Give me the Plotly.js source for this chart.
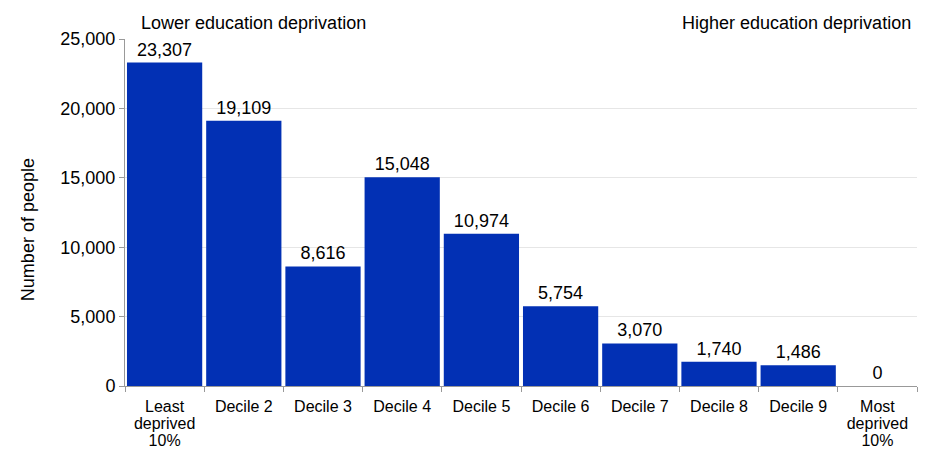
<!DOCTYPE html>
<html><head><meta charset="utf-8">
<script src="https://cdn.plot.ly/plotly-3.0.1.min.js"></script>
<style>body{margin:0;padding:0;background:#fff}#chart{width:928px;height:451px}</style>
</head><body><div id="chart"></div>
<script>
const categories = ["Least<br>deprived<br>10%", "Decile 2", "Decile 3", "Decile 4", "Decile 5", "Decile 6", "Decile 7", "Decile 8", "Decile 9", "Most<br>deprived<br>10%"];
const people = [23307, 19109, 8616, 15048, 10974, 5754, 3070, 1740, 1486, 0];
const yTicks = [0, 5000, 10000, 15000, 20000, 25000];

const trace = {
  type: "bar",
  x: categories,
  y: people,
  marker: {color: "#0230b4"},
  text: people.map(v => v.toLocaleString("en-GB")),
  textposition: "outside",
  cliponaxis: false,
  constraintext: "none",
  textfont: {family: "Liberation Sans, Arial, sans-serif", size: 18, color: "#000"},
  hoverinfo: "x+y"
};

const layout = {
  width: 928, height: 451,
  margin: {l: 125, r: 11, t: 39, b: 65},
  paper_bgcolor: "#fff", plot_bgcolor: "#fff",
  bargap: 0.05,
  showlegend: false,
  font: {family: "Liberation Sans, Arial, sans-serif", size: 18, color: "#000"},
  xaxis: {
    type: "category",
    tickson: "boundaries",
    ticks: "outside", ticklen: 5, tickcolor: "#999",
    showline: true, linecolor: "#999", linewidth: 1,
    tickfont: {size: 16},
    ticklabelstandoff: 6,
    automargin: false
  },
  yaxis: {
    range: [0, 25000],
    tickvals: yTicks,
    ticktext: yTicks.map(v => v.toLocaleString("en-GB")),
    ticks: "outside", ticklen: 5, tickcolor: "#999",
    showline: true, linecolor: "#999", linewidth: 1,
    showgrid: true, gridcolor: "#e6e6e6",
    zeroline: false,
    tickfont: {size: 18},
    automargin: false
  },
  annotations: [
    {text: "Number of people", xref: "paper", yref: "paper", x: -0.1225, y: 0.452, xanchor: "center", yanchor: "middle", textangle: -90, showarrow: false, font: {size: 18}},
    {text: "Lower education deprivation", xref: "paper", yref: "paper", x: 0.018, y: 1.0, xanchor: "left", yanchor: "bottom", yshift: 4, showarrow: false, font: {size: 18}},
    {text: "Higher education deprivation", xref: "paper", yref: "paper", x: 0.995, y: 1.0, xanchor: "right", yanchor: "bottom", yshift: 4, showarrow: false, font: {size: 18}}
  ]
};

Plotly.newPlot("chart", [trace], layout, {displayModeBar: false, staticPlot: true}).then(gd => {
  // tighten line spacing of multi-line category labels
  gd.querySelectorAll(".xtick text").forEach(t => {
    t.querySelectorAll("tspan.line").forEach((ts, i) => ts.setAttribute("dy", (i * 1.05) + "em"));
  });
});
</script></body></html>
